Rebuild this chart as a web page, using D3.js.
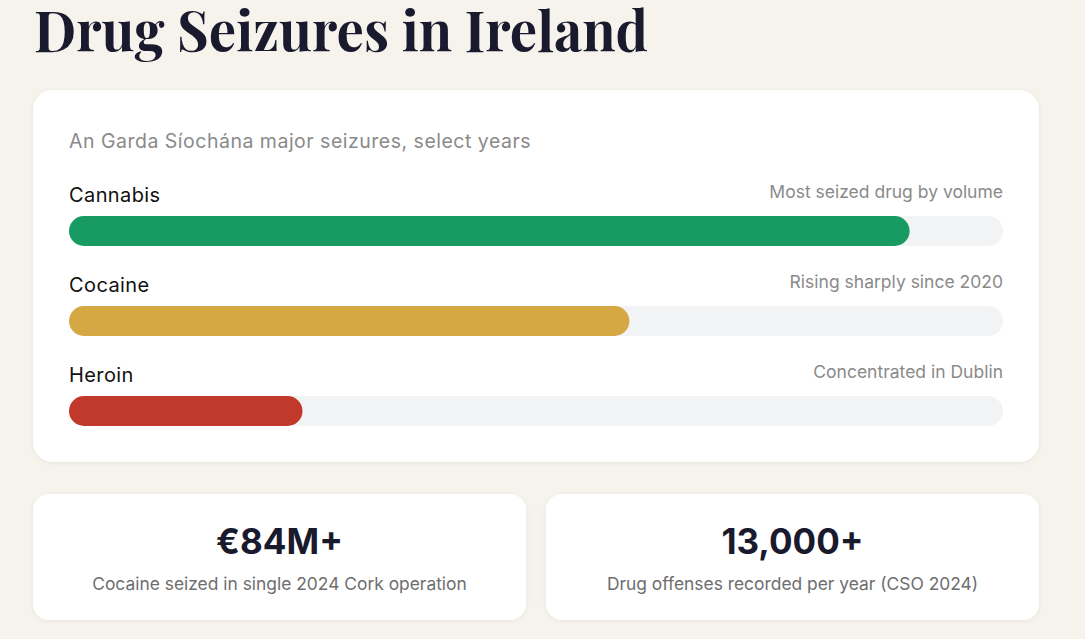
<!DOCTYPE html>
<html lang="en">
<head>
<meta charset="UTF-8">
<title>Drug Seizures in Ireland</title>
<style>
html, body {
    margin: 0;
    padding: 0;
    background-color: #f6f3ed;
}
svg {
    display: block;
}
.sans {
    font-family: "Inter", "DejaVu Sans", sans-serif;
}
</style>
</head>
<body>
<div id="plot"></div>
<script src="https://cdn.jsdelivr.net/npm/d3@7"></script>
<script>

// data
const drugs = ["Cannabis", "Cocaine", "Heroin"];
const shares = [90, 60, 25];          // % of track filled
const notes = ["Most seized drug by volume", "Rising sharply since 2020", "Concentrated in Dublin"];
const drugColors = ["#189b63", "#d5a843", "#c0392b"];

const statValues = ["€84M+", "13,000+"];
const statLabels = ["Cocaine seized in single 2024 Cork operation", "Drug offenses recorded per year (CSO 2024)"];

const w = 1085,
      h = 639;

const svg = d3.select("#plot").append("svg")
    .attr("width", w)
    .attr("height", h);

// soft shadow for cards
const defs = svg.append("defs");
const shadow = defs.append("filter")
    .attr("id", "shadow")
    .attr("x", "-5%").attr("y", "-5%")
    .attr("width", "110%").attr("height", "115%");
shadow.append("feDropShadow")
    .attr("dx", 0).attr("dy", 1)
    .attr("stdDeviation", 2)
    .attr("flood-color", "#000")
    .attr("flood-opacity", 0.06);

// title
svg.append("text")
    .attr("x", 34)
    .attr("y", 52)
    .attr("font-family", "'Playfair Display', 'Liberation Serif', serif")
    .attr("font-weight", 700)
    .attr("font-size", 56)
    .attr("fill", "#1a1a2e")
    .attr("textLength", 614)
    .attr("lengthAdjust", "spacingAndGlyphs")
    .text("Drug Seizures in Ireland");

// main card
const card = { x: 33, y: 90, w: 1006, h: 372 };
svg.append("rect")
    .attr("x", card.x).attr("y", card.y)
    .attr("width", card.w).attr("height", card.h)
    .attr("rx", 20)
    .attr("fill", "#fff")
    .attr("filter", "url(#shadow)");

svg.append("text")
    .attr("class", "sans")
    .attr("x", 69)
    .attr("y", 148)
    .attr("font-size", 19.5)
    .attr("letter-spacing", 0.5)
    .attr("fill", "#8a8a8a")
    .text("An Garda Síochána major seizures, select years");

// scales
const x = d3.scaleLinear()
    .domain([0, 100])
    .range([69, 1003]);

const y = d3.scaleBand()
    .domain(drugs)
    .range([172, 442]);

const barH = 30;

const rows = svg.selectAll(".row")
    .data(drugs.map((d, i) => ({ name: d, share: shares[i], note: notes[i], color: drugColors[i] })))
    .join("g")
    .attr("class", "row sans")
    .attr("transform", d => `translate(0,${y(d.name)})`);

rows.append("text")
    .attr("x", x(0))
    .attr("y", 30)
    .attr("font-size", 20)
    .attr("letter-spacing", 0.4)
    .attr("fill", "#111")
    .text(d => d.name);

rows.append("text")
    .attr("x", x(100))
    .attr("y", 26)
    .attr("text-anchor", "end")
    .attr("font-size", 17.5)
    .attr("fill", "#8a8a8a")
    .text(d => d.note);

// track
rows.append("rect")
    .attr("x", x(0))
    .attr("y", 44)
    .attr("width", x(100) - x(0))
    .attr("height", barH)
    .attr("rx", barH / 2)
    .attr("fill", "#f2f3f5");

// fill
rows.append("rect")
    .attr("x", x(0))
    .attr("y", 44)
    .attr("width", d => x(d.share) - x(0))
    .attr("height", barH)
    .attr("rx", barH / 2)
    .attr("fill", d => d.color);

// stat cards
const sx = d3.scaleBand()
    .domain(d3.range(statValues.length))
    .range([33, 1039])
    .paddingInner(20 / 513);

const stats = svg.selectAll(".stat")
    .data(statValues.map((v, i) => ({ value: v, label: statLabels[i], i })))
    .join("g")
    .attr("class", "stat sans")
    .attr("transform", d => `translate(${sx(d.i)},494)`);

stats.append("rect")
    .attr("width", sx.bandwidth())
    .attr("height", 126)
    .attr("rx", 16)
    .attr("fill", "#fff")
    .attr("filter", "url(#shadow)");

stats.append("text")
    .attr("x", sx.bandwidth() / 2)
    .attr("y", 60)
    .attr("text-anchor", "middle")
    .attr("font-size", 35)
    .attr("font-weight", 700)
    .attr("fill", "#1a1a2e")
    .text(d => d.value);

stats.append("text")
    .attr("x", sx.bandwidth() / 2)
    .attr("y", 96)
    .attr("text-anchor", "middle")
    .attr("font-size", 17.4)
    .attr("fill", "#6e6e6e")
    .text(d => d.label);

</script>
</body>
</html>
